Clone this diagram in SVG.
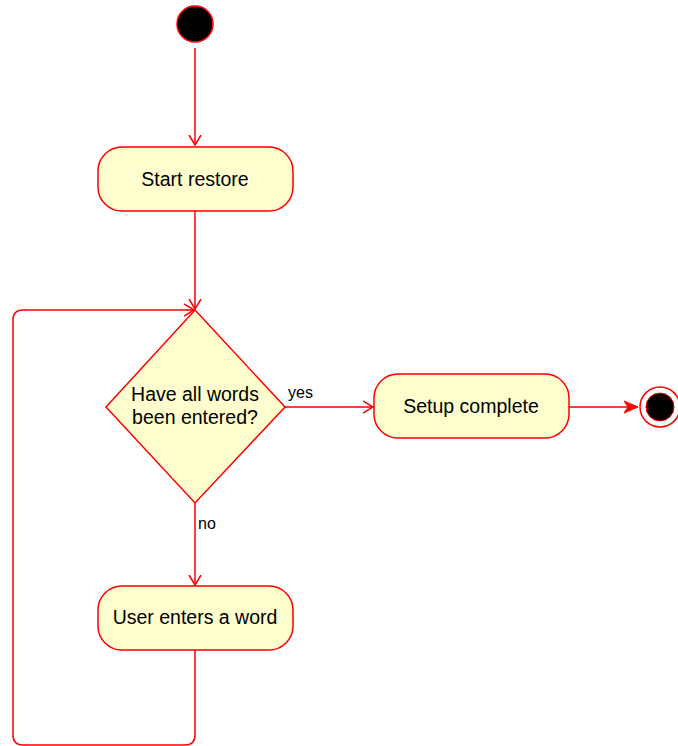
<svg xmlns="http://www.w3.org/2000/svg" width="678" height="746" viewBox="0 0 678 746">
  <style>
    .act { fill: #FEFECE; stroke: #FF0000; stroke-width: 1.5; }
    .lbl { font-family: "Liberation Sans", Arial, sans-serif; font-size: 19.5px; fill: #000; text-anchor: middle; }
    .edge { font-family: "Liberation Sans", Arial, sans-serif; font-size: 16px; fill: #000; }
    .conn { fill: none; stroke: #FF0000; stroke-width: 1.5; }
  </style>
  <defs>
    <marker id="open" viewBox="0 0 20 20" refX="10" refY="10" markerWidth="20" markerHeight="20" markerUnits="userSpaceOnUse" orient="auto">
      <path d="M0,4 L10,10 L0,16" fill="none" stroke="#FF0000" stroke-width="1.5"/>
    </marker>
    <marker id="solid" viewBox="0 0 20 20" refX="14" refY="10" markerWidth="20" markerHeight="20" markerUnits="userSpaceOnUse" orient="auto">
      <path d="M0,4 L14,10 L0,16 L4,10 Z" fill="#FF0000" stroke="#FF0000" stroke-width="1"/>
    </marker>
  </defs>

  <g id="connectors">
    <path class="conn" d="M195,48 L195,145" marker-end="url(#open)"/>
    <path class="conn" d="M195,211 L195,309" marker-end="url(#open)"/>
    <path class="conn" d="M285,407 L373,407" marker-end="url(#open)"/>
    <path class="conn" d="M569,407 L638,407" marker-end="url(#solid)"/>
    <path class="conn" d="M195,503 L195,585" marker-end="url(#open)"/>
    <path class="conn" d="M195,650 L195,735 Q195,745 185,745 L23,745 Q13,745 13,735 L13,320 Q13,310 23,310 L194,310" marker-end="url(#open)"/>
    <text class="edge" x="288" y="398">yes</text>
    <text class="edge" x="198" y="529">no</text>
  </g>

  <g id="start">
    <circle cx="195" cy="24" r="18" fill="#000" stroke="#FF0000" stroke-width="1.5"/>
  </g>

  <g id="start-restore">
    <rect class="act" x="98" y="147" width="195" height="64" rx="24"/>
    <text class="lbl" x="195" y="186">Start restore</text>
  </g>

  <g id="decision">
    <polygon class="act" points="195,310 285,407 195,503 106,407"/>
    <text class="lbl" x="195" y="401">Have all words</text>
    <text class="lbl" x="195" y="424">been entered?</text>
  </g>

  <g id="setup-complete">
    <rect class="act" x="374" y="374" width="195" height="64" rx="24"/>
    <text class="lbl" x="471" y="413">Setup complete</text>
  </g>

  <g id="end">
    <circle cx="660" cy="407" r="20" fill="none" stroke="#FF0000" stroke-width="1.5"/>
    <circle cx="660" cy="407" r="14" fill="#000" stroke="#FF0000" stroke-width="1"/>
  </g>

  <g id="user-enters-word">
    <rect class="act" x="98" y="586" width="195" height="64" rx="24"/>
    <text class="lbl" x="195" y="624">User enters a word</text>
  </g>
</svg>
